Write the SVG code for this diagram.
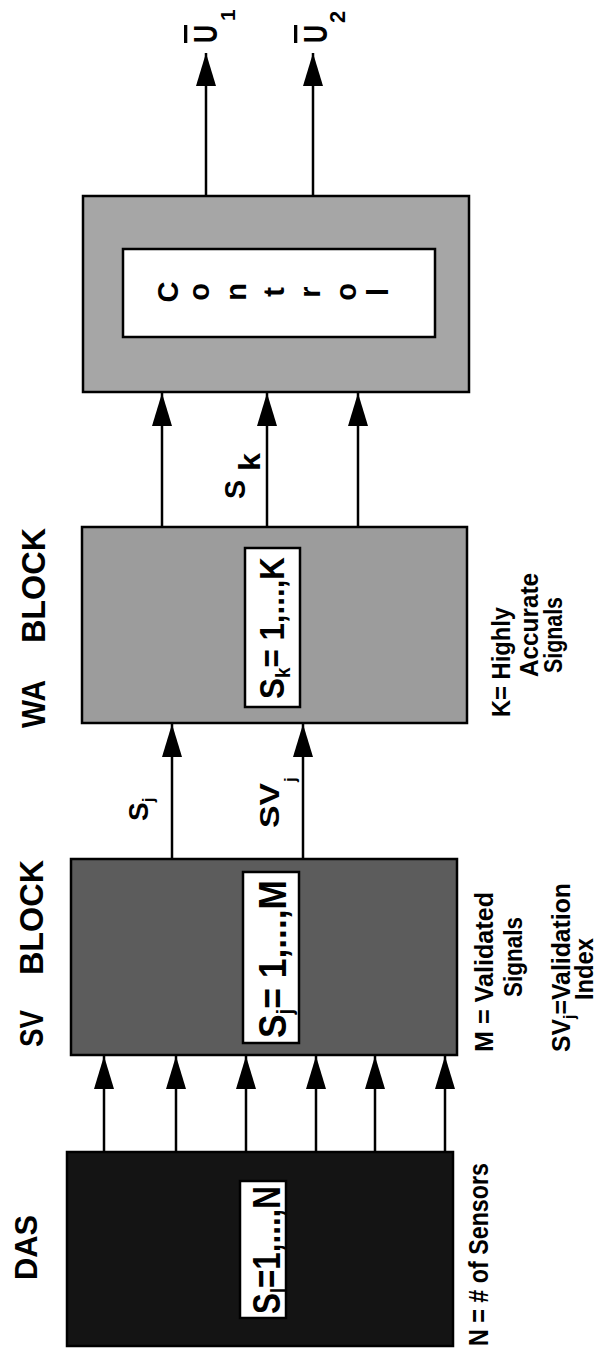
<svg xmlns="http://www.w3.org/2000/svg" width="601" height="1350" viewBox="0 0 601 1350">
<style>
.t{font-family:"Liberation Sans",Arial,sans-serif;font-weight:bold;fill:#000}
.box{stroke:#000;stroke-width:2.5}
.inner{fill:#fff;stroke:#000;stroke-width:2.5}
.wire{stroke:#000;stroke-width:2.5;fill:none;marker-end:url(#ah)}
</style>
<defs>
<marker id="ah" markerUnits="userSpaceOnUse" markerWidth="33" markerHeight="20" refX="33" refY="10" orient="auto" viewBox="0 0 33 20">
<path d="M0,0 L33,10 L0,20 Z" fill="#000"/>
</marker>
</defs>
<rect width="601" height="1350" fill="#fff"/>

<g id="connectors">
<line class="wire" x1="104" y1="1152" x2="104" y2="1056"/>
<line class="wire" x1="176" y1="1152" x2="176" y2="1056"/>
<line class="wire" x1="246" y1="1152" x2="246" y2="1056"/>
<line class="wire" x1="316" y1="1152" x2="316" y2="1056"/>
<line class="wire" x1="375" y1="1152" x2="375" y2="1056"/>
<line class="wire" x1="445" y1="1152" x2="445" y2="1056"/>
<line class="wire" x1="172" y1="859" x2="172" y2="724"/>
<line class="wire" x1="303" y1="859" x2="303" y2="724"/>
<line class="wire" x1="162" y1="527" x2="162" y2="393"/>
<line class="wire" x1="267" y1="527" x2="267" y2="393"/>
<line class="wire" x1="358" y1="527" x2="358" y2="393"/>
<line class="wire" x1="206" y1="196" x2="206" y2="53"/>
<line class="wire" x1="313" y1="196" x2="313" y2="53"/>
<text class="t" font-size="28" transform="translate(148,821) rotate(-90)">S<tspan font-size="17" dy="6">j</tspan></text>
<text class="t" font-size="28" transform="translate(279,828) rotate(-90)" textLength="45" lengthAdjust="spacingAndGlyphs">SV</text>
<text class="t" font-size="17" transform="translate(296,782) rotate(-90)">j</text>
<text class="t" font-size="30" transform="translate(245,499) rotate(-90)" textLength="19" lengthAdjust="spacingAndGlyphs">S</text>
<text class="t" font-size="30" transform="translate(260,471) rotate(-90)" textLength="18" lengthAdjust="spacingAndGlyphs">k</text>
<text class="t" font-size="33" transform="translate(217,43) rotate(-90)" textLength="18" lengthAdjust="spacingAndGlyphs" text-decoration="overline">U</text>
<text class="t" font-size="21" transform="translate(235,21) rotate(-90)">1</text>
<text class="t" font-size="33" transform="translate(327,43) rotate(-90)" textLength="18" lengthAdjust="spacingAndGlyphs" text-decoration="overline">U</text>
<text class="t" font-size="22" transform="translate(345,23) rotate(-90)">2</text>
</g>

<g id="das">
<rect class="box" x="67" y="1152" width="386" height="194" fill="#141414"/>
<rect class="inner" x="240" y="1181" width="46" height="137"/>
<text class="t" font-size="38" transform="translate(280,1314) rotate(-90)" textLength="128" lengthAdjust="spacingAndGlyphs">S<tspan font-size="22" dy="6">l</tspan><tspan dy="-6">=1,...,N</tspan></text>
<text class="t" font-size="31" transform="translate(37,1280) rotate(-90)" textLength="65" lengthAdjust="spacingAndGlyphs">DAS</text>
<text class="t" font-size="28" transform="translate(488,1346) rotate(-90)" textLength="183" lengthAdjust="spacingAndGlyphs">N = # of Sensors</text>
</g>

<g id="sv">
<rect class="box" x="71" y="859" width="386" height="196" fill="#5c5c5c"/>
<rect class="inner" x="243" y="872" width="56" height="171"/>
<text class="t" font-size="38" transform="translate(286,1038) rotate(-90)" textLength="158" lengthAdjust="spacingAndGlyphs">S<tspan font-size="22" dy="6">j</tspan><tspan dy="-6">= 1,...,M</tspan></text>
<text class="t" font-size="33" transform="translate(43,1047) rotate(-90)" textLength="37" lengthAdjust="spacingAndGlyphs">SV</text>
<text class="t" font-size="33" transform="translate(43,975) rotate(-90)" textLength="115" lengthAdjust="spacingAndGlyphs">BLOCK</text>
<text class="t" font-size="25" transform="translate(493,1052) rotate(-90)" textLength="160" lengthAdjust="spacingAndGlyphs">M = Validated</text>
<text class="t" font-size="25" transform="translate(522,997) rotate(-90)" textLength="80" lengthAdjust="spacingAndGlyphs">Signals</text>
<text class="t" font-size="25" transform="translate(570,1052) rotate(-90)" textLength="169" lengthAdjust="spacingAndGlyphs">SV<tspan font-size="16" dy="5">j</tspan><tspan dy="-5">=Validation</tspan></text>
<text class="t" font-size="25" transform="translate(593,1000) rotate(-90)" textLength="62" lengthAdjust="spacingAndGlyphs">Index</text>
</g>

<g id="wa">
<rect class="box" x="82" y="527" width="385" height="196" fill="#9c9c9c"/>
<rect class="inner" x="245" y="548" width="55" height="159"/>
<text class="t" font-size="35" transform="translate(284,699) rotate(-90)" textLength="142" lengthAdjust="spacingAndGlyphs">S<tspan font-size="21" dy="6">k</tspan><tspan dy="-6">= 1,...,K</tspan></text>
<text class="t" font-size="33" transform="translate(45,728) rotate(-90)" textLength="48" lengthAdjust="spacingAndGlyphs">WA</text>
<text class="t" font-size="33" transform="translate(45,643) rotate(-90)" textLength="115" lengthAdjust="spacingAndGlyphs">BLOCK</text>
<text class="t" font-size="25" transform="translate(510,717) rotate(-90)" textLength="110" lengthAdjust="spacingAndGlyphs">K= Highly</text>
<text class="t" font-size="25" transform="translate(538,677) rotate(-90)" textLength="104" lengthAdjust="spacingAndGlyphs">Accurate</text>
<text class="t" font-size="25" transform="translate(562,673) rotate(-90)" textLength="76" lengthAdjust="spacingAndGlyphs">Signals</text>
</g>

<g id="control">
<rect class="box" x="83" y="196" width="386" height="196" fill="#a6a6a6"/>
<rect class="inner" x="123" y="249" width="312" height="88"/>
<text class="t" font-size="29" text-anchor="middle" transform="translate(178,292) rotate(-90)">C</text>
<text class="t" font-size="29" text-anchor="middle" transform="translate(209,292) rotate(-90)">o</text>
<text class="t" font-size="29" text-anchor="middle" transform="translate(246,292) rotate(-90)">n</text>
<text class="t" font-size="29" text-anchor="middle" transform="translate(284,292) rotate(-90)">t</text>
<text class="t" font-size="29" text-anchor="middle" transform="translate(320,292) rotate(-90)">r</text>
<text class="t" font-size="29" text-anchor="middle" transform="translate(356,292) rotate(-90)">o</text>
<text class="t" font-size="29" text-anchor="middle" transform="translate(388,292) rotate(-90)">l</text>
</g>
</svg>
